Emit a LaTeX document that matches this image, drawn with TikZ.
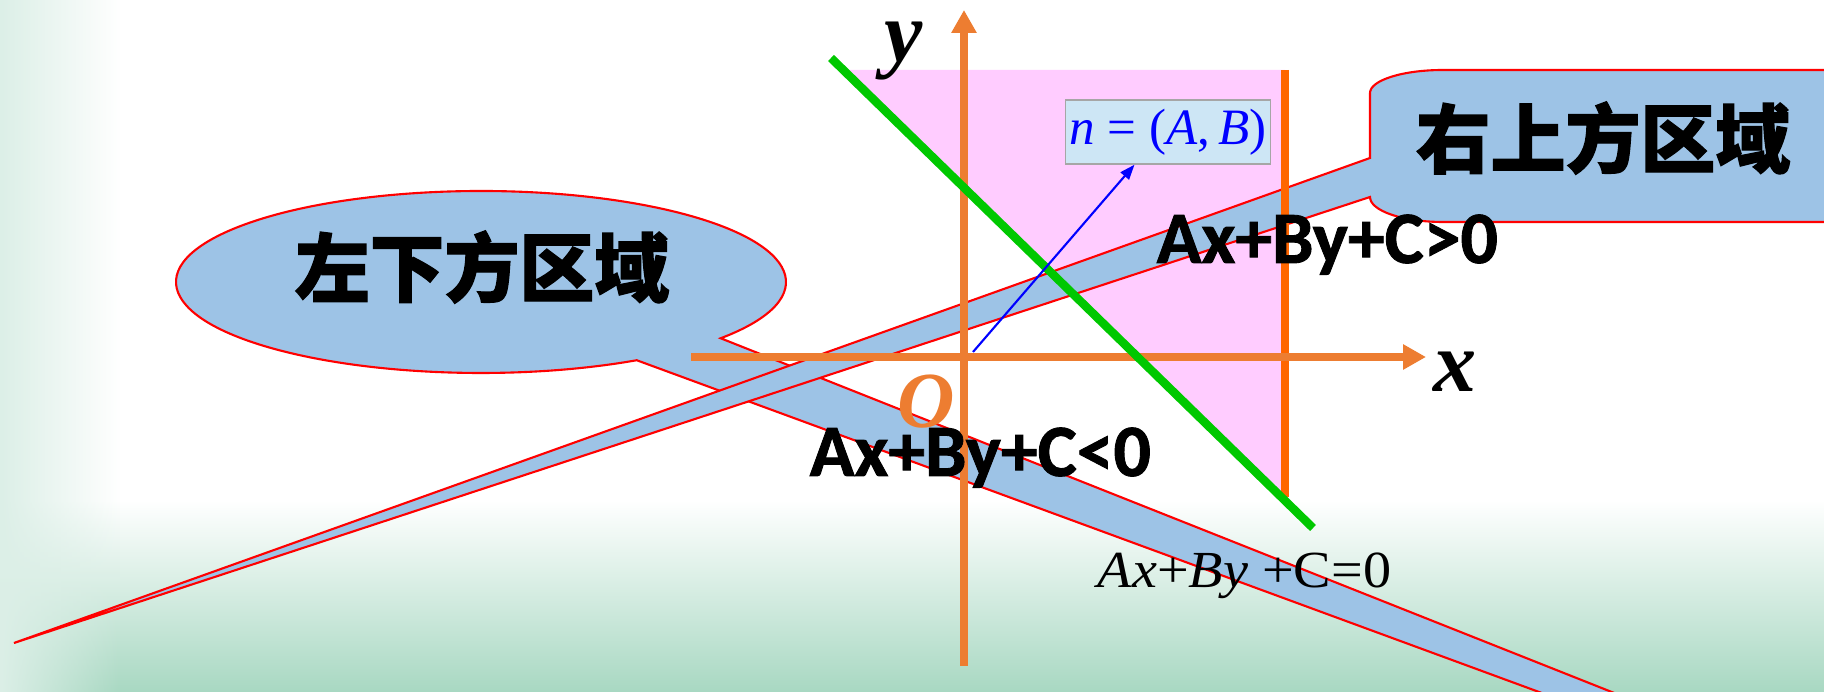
\documentclass[tikz,border=0pt]{standalone}
\usepackage{fontspec}
\setmainfont{Liberation Serif}
\newfontfamily\sansb{Carlito}[BoldFeatures={FakeBold=1.2}]
\newfontfamily\cjk{Noto Sans CJK SC}[BoldFeatures={FakeBold=1.6}]
\usetikzlibrary{arrows.meta,fadings}

\definecolor{axisorange}{RGB}{237,125,49}
\definecolor{edgeorange}{RGB}{255,102,0}
\definecolor{linegreen}{RGB}{0,200,0}
\definecolor{regionpink}{RGB}{255,204,255}
\definecolor{bubbleblue}{RGB}{157,195,230}
\definecolor{boxblue}{RGB}{205,230,245}
\definecolor{mint}{RGB}{168,216,194}

\tikzstyle{axisline} = [draw=axisorange, line width=2.1pt, -{Triangle[length=0.23cm,width=0.24cm]}]
\tikzstyle{bubble} = [fill=bubbleblue, draw=red, line width=0.6pt]
\tikzstyle{nbox} = [draw=gray!70, fill=boxblue, text=blue, inner sep=0pt, minimum width=2.05cm, minimum height=0.64cm, font=\fontsize{14.5}{16}\selectfont]
\tikzstyle{axlab} = [inner sep=0pt, anchor=base west, font=\bfseries\itshape\fontsize{24.5}{28}\selectfont]
\tikzstyle{ineq} = [inner sep=0pt, anchor=base west, font=\sansb\bfseries\fontsize{21}{24}\selectfont]
\tikzstyle{regionlab} = [inner sep=0pt, anchor=base, font=\cjk\bfseries\fontsize{21.3}{24}\selectfont]

\begin{document}
\begin{tikzpicture}[x=0.01cm, y=-0.01cm]
\useasboundingbox (0,0) rectangle (1824,692);
\clip (0,0) rectangle (1824,692);
% background
\fill[white] (0,0) rectangle (1824,692);
\shade[top color=white, bottom color=mint] (0,500) rectangle (1824,692);
\fill[mint!40, path fading=east] (0,0) rectangle (120,692);
% half plane
\fill[regionpink] (843,70) -- (1285,70) -- (1285,501) -- cycle;
% callouts
\draw[bubble] (481,282) ++(38.2:305 and 91)
    arc[start angle=38.2, end angle=-300.7, x radius=305, y radius=91]
    -- (1724,760) -- (1783,760) -- cycle;
\draw[bubble] (1370,93) arc[start angle=180, end angle=270, x radius=73, y radius=23]
    -- (1900,70) -- (1900,222) -- (1443,222)
    arc[start angle=90, end angle=180, x radius=73, y radius=25]
    -- (14,643) -- (1370,158) -- cycle;
% axes and lines
\coordinate (xs) at (691,357);
\coordinate (xe) at (1426,357);
\coordinate (ys) at (964,666);
\coordinate (ye) at (964,10);
\coordinate (g1) at (831,58);
\coordinate (g2) at (1313,528);
\coordinate (r1) at (1285,70);
\coordinate (r2) at (1285,497);
\coordinate (nbase) at (973,352);
\draw[edgeorange, line width=2.5pt] (r1) -- (r2);
\draw[axisline] (xs) -- (xe);
\draw[axisline] (ys) -- (ye);
\draw[linegreen, line width=2.4pt] (g1) -- (g2);
\node[nbox] (nvec) at (1168,132) {\textit{n} = (\textit{A},\,\textit{B})};
\draw[blue, line width=0.6pt, -{Triangle[length=0.15cm,width=0.11cm]}] (nbase) -- ([xshift=-0.335cm]nvec.south);
% labels
\node[axlab] (ylab) at (884,62) {y};
\node[axlab] (xlab) at (1433,392) {x};
\node[axlab, text=axisorange, font=\bfseries\itshape\fontsize{22.6}{26}\selectfont] (olab) at (897,428) {O};
\node[ineq] (gt) at (1156,263) {Ax+By+C>0};
\node[ineq] (lt) at (809,476) {Ax+By+C<0};
\node[inner sep=0pt, anchor=base west, xscale=1.08, font=\fontsize{14.8}{16}\selectfont] (eq) at (1097,588) {\textit{Ax}+\textit{By} +C=0};
\node[regionlab] (ltext) at (482,296) {左下方区域};
\node[regionlab] (rtext) at (1603,167) {右上方区域};
\end{tikzpicture}
\end{document}
